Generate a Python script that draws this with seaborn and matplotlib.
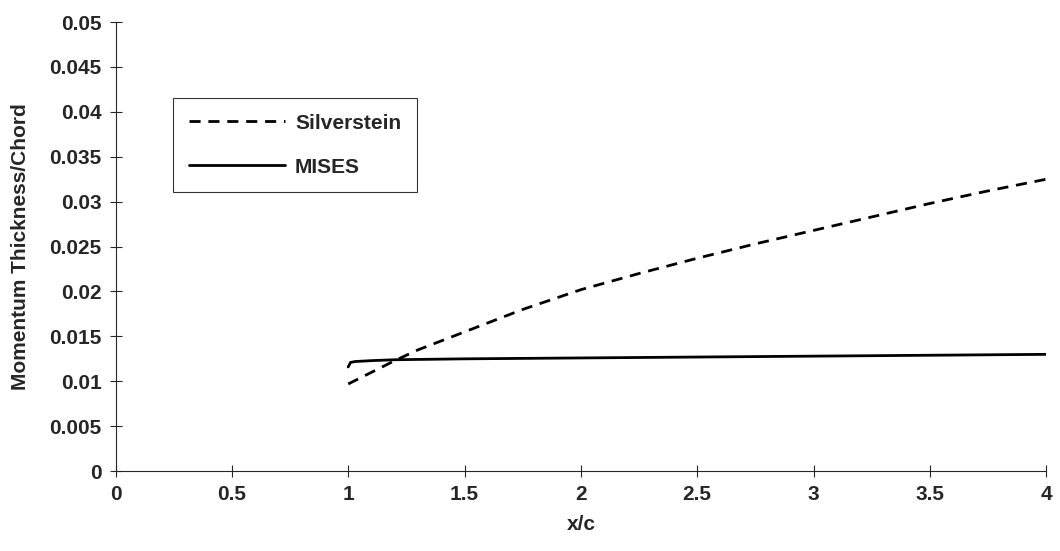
import pandas as pd
import matplotlib
matplotlib.use("Agg")
import matplotlib.pyplot as plt
import seaborn as sns

# values
silverstein_x = [1.0, 1.1, 1.2, 1.3, 1.4, 1.5, 1.75, 2.0, 2.25, 2.5, 2.75, 3.0, 3.25, 3.5, 3.75, 4.0]
silverstein_y = [0.0097, 0.0110, 0.0123, 0.0135, 0.0145, 0.0155, 0.0180, 0.0202,
                 0.0220, 0.0237, 0.0253, 0.0268, 0.0283, 0.0298, 0.0312, 0.0325]

mises_x = [1.0, 1.01, 1.03, 1.1, 1.2, 1.5, 2.0, 2.5, 3.0, 3.5, 4.0]
mises_y = [0.0116, 0.0121, 0.0122, 0.0123, 0.0124, 0.0125, 0.0126, 0.0127, 0.0128, 0.0129, 0.0130]

x_ticks = [0, 0.5, 1, 1.5, 2, 2.5, 3, 3.5, 4]
y_ticks = [0, 0.005, 0.01, 0.015, 0.02, 0.025, 0.03, 0.035, 0.04, 0.045, 0.05]

sns.set_style("ticks")
plt.rcParams['font.family'] = ['Liberation Sans', 'DejaVu Sans']
plt.rcParams['font.weight'] = 'bold'

fig = plt.figure(figsize=(10.6, 5.51), dpi=100)
ax = fig.add_axes([0.109, 0.145, 0.878, 0.815])

sns.lineplot(x=silverstein_x, y=silverstein_y, ax=ax, color='black',
             linewidth=2.0, dashes=False, label='Silverstein')
ax.lines[-1].set_dashes((4, 2.8))
sns.lineplot(x=mises_x, y=mises_y, ax=ax, color='black',
             linewidth=2.0, label='MISES')

ax.set_xlim(0, 4)
ax.set_ylim(0, 0.05)
ax.set_xticks(x_ticks)
ax.set_xticklabels([f"{t:g}" for t in x_ticks])
ax.set_yticks(y_ticks)
ax.set_yticklabels([f"{t:g}" for t in y_ticks])
ax.tick_params(direction='inout', length=8, width=0.8, labelsize=15, pad=6)
ax.tick_params(axis='x', pad=6)
ax.spines['top'].set_visible(False)
ax.spines['right'].set_visible(False)
ax.spines['left'].set_linewidth(0.8)
ax.spines['bottom'].set_linewidth(0.8)

ax.set_xlabel("x/c", fontsize=15, fontweight='bold', labelpad=8)
ax.set_ylabel("Momentum Thickness/Chord", fontsize=15, fontweight='bold', labelpad=14)

leg = ax.legend(loc='upper left', bbox_to_anchor=(0.062, 0.831), fontsize=15,
                frameon=True, fancybox=False, edgecolor='black', handlelength=4.6,
                handletextpad=0.5, borderpad=0.75, labelspacing=1.2, borderaxespad=0)
leg.get_frame().set_linewidth(0.8)

fig.savefig("out.png", dpi=100)
